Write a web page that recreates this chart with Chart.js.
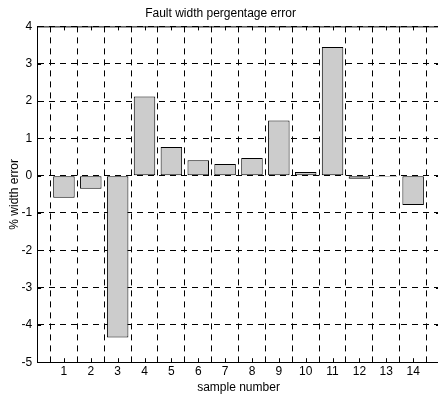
<!DOCTYPE html>
<html>
<head>
<meta charset="utf-8">
<script src="https://cdn.jsdelivr.net/npm/chart.js@4/dist/chart.umd.min.js"></script>
<style>
  html, body { margin: 0; padding: 0; background: #fff; overflow: hidden; }
  #wrap { width: 438px; height: 396px; overflow: hidden; position: relative; }
  canvas { display: block; }
</style>
</head>
<body>
<div id="wrap"><canvas id="c" width="442" height="396"></canvas></div>
<script>
const samples = [1, 2, 3, 4, 5, 6, 7, 8, 9, 10, 11, 12, 13, 14];
const widthError = [-0.59, -0.35, -4.34, 2.12, 0.77, 0.41, 0.31, 0.47, 1.48, 0.10, 3.45, -0.08, -0.01, -0.79];
const titleText = 'Fault width pergentage error';
const xTitle = 'sample number';
const yTitle = '% width error';

const FONT = '"Liberation Sans", Arial, sans-serif';

const boxTicks = {
  id: 'boxTicks',
  afterDatasetsDraw(chart) {
    const {ctx, chartArea: a, scales: {x, y}} = chart;
    ctx.save();
    ctx.strokeStyle = '#000';
    ctx.lineWidth = 1;
    ctx.beginPath();
    ctx.moveTo(a.left, a.top + 0.5);
    ctx.lineTo(a.right, a.top + 0.5);
    ctx.stroke();
    const L = 4;
    ctx.beginPath();
    x.ticks.forEach(t => {
      const px = Math.round(x.getPixelForValue(t.value)) + 0.5;
      ctx.moveTo(px, a.bottom); ctx.lineTo(px, a.bottom - L);
      ctx.moveTo(px, a.top); ctx.lineTo(px, a.top + L);
    });
    y.ticks.forEach(t => {
      const py = Math.round(y.getPixelForValue(t.value)) + 0.5;
      ctx.moveTo(a.left, py); ctx.lineTo(a.left + L, py);
      ctx.moveTo(a.right, py); ctx.lineTo(a.right - L, py);
    });
    ctx.stroke();
    ctx.restore();
  }
};

new Chart(document.getElementById('c'), {
  type: 'bar',
  data: {
    datasets: [{
      data: samples.map((s, i) => ({x: s, y: widthError[i]})),
      backgroundColor: '#cccccc',
      borderColor: '#000000',
      borderWidth: 1,
      borderSkipped: false,
      minBarLength: 1,
      barPercentage: 0.8,
      categoryPercentage: 1.0
    }]
  },
  options: {
    responsive: false,
    animation: false,
    devicePixelRatio: 1,
    layout: { padding: { left: 0, right: 1, top: 0, bottom: 1 } },
    plugins: {
      legend: { display: false },
      tooltip: { enabled: false },
      title: {
        display: true,
        text: titleText,
        color: '#000',
        font: { family: FONT, size: 12, weight: 'normal' },
        padding: { top: 6, bottom: 6 }
      }
    },
    scales: {
      x: {
        type: 'linear',
        min: 0,
        max: 15,
        offset: false,
        ticks: {
          stepSize: 1,
          color: '#000',
          padding: 2,
          font: { family: FONT, size: 12 },
          callback: v => (v >= 1 && v <= 14) ? String(v) : ''
        },
        grid: { color: '#000', lineWidth: 1, drawTicks: false },
        border: { display: true, color: '#000', width: 1, dash: [6, 5] },
        title: {
          display: true,
          text: xTitle,
          color: '#000',
          font: { family: FONT, size: 12 },
          padding: { top: 0, bottom: 0 }
        }
      },
      y: {
        min: -5,
        max: 4,
        ticks: {
          stepSize: 1,
          color: '#000',
          padding: 5,
          font: { family: FONT, size: 12 }
        },
        grid: { color: '#000', lineWidth: 1, drawTicks: false },
        border: { display: true, color: '#000', width: 1, dash: [6, 5] },
        title: {
          display: true,
          text: yTitle,
          color: '#000',
          font: { family: FONT, size: 12 },
          padding: { top: 7, bottom: -5 }
        }
      }
    }
  },
  plugins: [boxTicks]
});
</script>
</body>
</html>
